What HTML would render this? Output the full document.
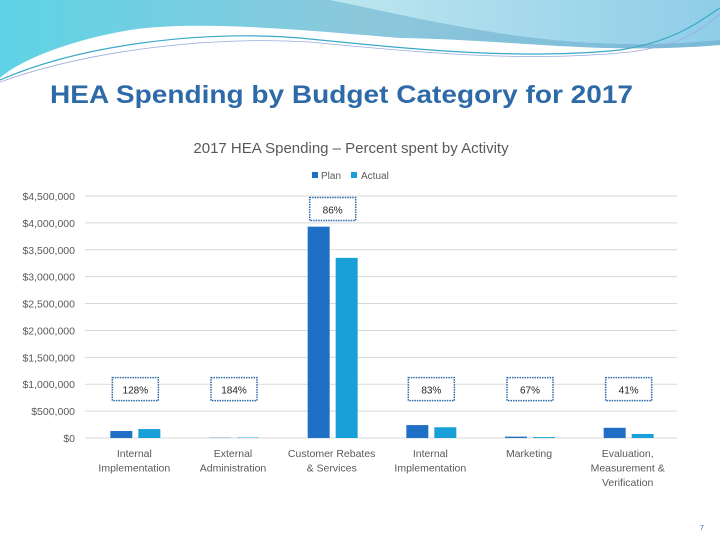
<!DOCTYPE html>
<html><head><meta charset="utf-8"><style>
body{margin:0;width:720px;height:540px;overflow:hidden;background:#fff;font-family:"Liberation Sans",sans-serif}
</style></head><body>
<svg width="720" height="540" xmlns="http://www.w3.org/2000/svg">
<defs>
<linearGradient id="g1" x1="0" y1="0" x2="1" y2="0"><stop offset="0" stop-color="#5fd3e6"/><stop offset="0.5" stop-color="#8cc8dc"/><stop offset="1" stop-color="#7ab8d8"/></linearGradient>
<linearGradient id="g2" x1="0" y1="0" x2="1" y2="0"><stop offset="0" stop-color="#bde7ef"/><stop offset="1" stop-color="#8fcde8"/></linearGradient>
</defs>
<g>
<path d="M0 0 H720 V45 C600 55 520 40 400 38 C300 30 200 20 130 30 C70 40 20 60 0 78 Z" fill="url(#g1)"/>
<path d="M330 0 H720 V40 C640 48 560 44 480 30 C420 20 370 8 330 0 Z" fill="url(#g2)"/>
<path d="M0 80 C80 45 200 30 300 38 C420 50 520 60 620 50 C680 40 700 20 720 8" fill="none" stroke="#3aa8c8" stroke-width="1.2"/>
<path d="M0 82 C90 50 210 36 310 42 C430 54 530 62 630 52 C690 44 705 25 720 14" fill="none" stroke="#9ad" stroke-width="0.8"/>
</g>
<text x="50" y="103" font-size="25" font-weight="bold" fill="#2e6aa8" textLength="583" lengthAdjust="spacingAndGlyphs">HEA Spending by Budget Category for 2017</text>
<text x="351" y="153" font-family="Liberation Sans" font-size="15" fill="#595959" text-anchor="middle">2017 HEA Spending – Percent spent by Activity</text>
<g>
<rect x="312" y="172" width="6" height="6" fill="#1f6fc5"/>
<text x="321" y="179" font-size="10" fill="#595959">Plan</text>
<rect x="351" y="172" width="6" height="6" fill="#1aa0d8"/>
<text x="361" y="179" font-size="10" fill="#595959">Actual</text>
</g>
<g id="chart"></g>
<text x="700" y="530" font-size="7" fill="#2e6aa8">7</text>
</svg>
<script>
const categories=[["Internal","Implementation"],["External","Administration"],["Customer Rebates","& Services"],["Internal","Implementation"],["Marketing"],["Evaluation,","Measurement &","Verification"]];
const planValues=[130000,5000,3930000,240000,25000,190000];
const actualValues=[167000,9000,3350000,200000,17000,75000];
const pctLabels=["128%","184%","86%","83%","67%","41%"];
const pctLabelValues=[900000,900000,4250000,900000,900000,900000];
const yTicks=[0,500000,1000000,1500000,2000000,2500000,3000000,3500000,4000000,4500000];
const NS="http://www.w3.org/2000/svg";
const g=document.getElementById('chart');
const x0=85,x1=677,yb=438,yt=196,ymax=4500000;
const y=v=>yb-(v/ymax)*(yb-yt);
const bw=(x1-x0)/categories.length;
const cx=i=>x0+bw*(i+0.5);
function mk(t,a){const e=document.createElementNS(NS,t);for(const k in a)e.setAttribute(k,a[k]);g.appendChild(e);return e;}
yTicks.forEach(v=>{
 const l=mk('line',{x1:x0,x2:x1,y1:y(v),y2:y(v),stroke:'#d9d9d9','stroke-width':1});
 
 
 const t=mk('text',{x:75,y:y(v)+4,'text-anchor':'end','font-size':'10.5',fill:'#595959'});
 t.textContent='$'+v.toLocaleString('en-US');
 
 
});
categories.forEach((c,i)=>{
 const p=mk('rect',{x:cx(i)-24,y:y(planValues[i]),width:22,height:yb-y(planValues[i]),fill:'#1f6fc5'});
 
 
 const a=mk('rect',{x:cx(i)+4,y:y(actualValues[i]),width:22,height:yb-y(actualValues[i]),fill:'#1aa0d8'});
 
 
 c.forEach((s,j)=>{
  const t=mk('text',{x:cx(i),y:457+j*14.5,'text-anchor':'middle','font-size':'10.5',fill:'#595959'});
  t.textContent=s;
  
  
 });
 const ly=y(pctLabelValues[i]);
 const b=mk('rect',{x:cx(i)-22,y:ly-12,width:46,height:23,fill:'#fff',stroke:'#2e6aa8','stroke-width':1.5,'stroke-dasharray':'1.5 1'});
 
 
 const t=mk('text',{x:cx(i)+1,y:ly+4,'text-anchor':'middle','font-size':'10',fill:'#222'});
 t.textContent=pctLabels[i];
 
 
});
</script>
</body></html>
